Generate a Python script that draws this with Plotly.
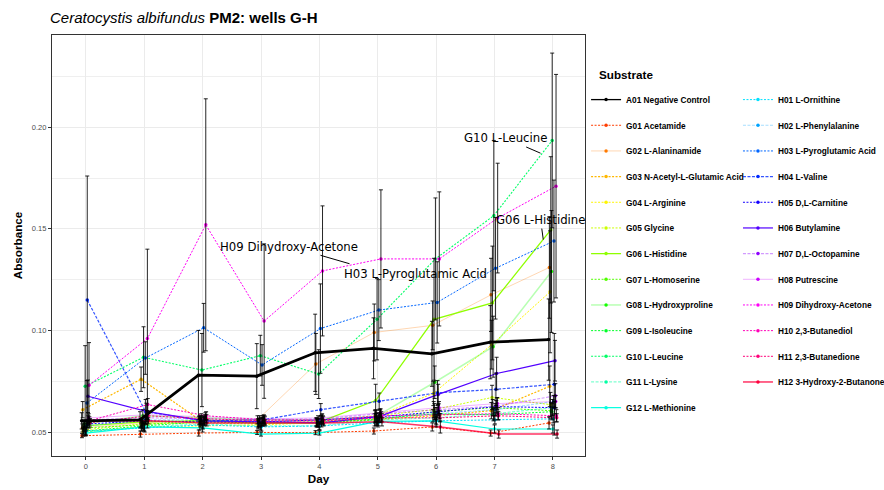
import plotly.graph_objects as go
import numpy as np

days = [0, 1, 2, 3, 4, 5, 6, 7, 8]
day_labels = ["0", "1", "2", "3", "4", "5", "6", "7", "8"]
y_ticks = [0.05, 0.10, 0.15, 0.20]
y_tick_labels = ["0.05", "0.10", "0.15", "0.20"]

substrates = [
    "A01 Negative Control", "G01 Acetamide", "G02 L-Alaninamide", "G03 N-Acetyl-L-Glutamic Acid",
    "G04 L-Arginine", "G05 Glycine", "G06 L-Histidine", "G07 L-Homoserine",
    "G08 L-Hydroxyproline", "G09 L-Isoleucine", "G10 L-Leucine", "G11 L-Lysine",
    "G12 L-Methionine", "H01 L-Ornithine", "H02 L-Phenylalanine", "H03 L-Pyroglutamic Acid",
    "H04 L-Valine", "H05 D,L-Carnitine", "H06 Butylamine", "H07 D,L-Octopamine",
    "H08 Putrescine", "H09 Dihydroxy-Acetone", "H10 2,3-Butanediol", "H11 2,3-Butanedione",
    "H12 3-Hydroxy-2-Butanone",
]

# mean absorbance per day
a01 = [0.0555, 0.0560, 0.0780, 0.0775, 0.0890, 0.0912, 0.0885, 0.0942, 0.0955]
g01 = [0.0482, 0.0490, 0.0495, 0.0498, 0.0497, 0.0505, 0.0525, 0.0495, 0.0545]
g02 = [0.0520, 0.0545, 0.0555, 0.0560, 0.0835, 0.0990, 0.1025, 0.1175, 0.1310]
g03 = [0.0610, 0.0760, 0.0560, 0.0545, 0.0550, 0.0560, 0.0580, 0.0605, 0.0725]
g04 = [0.0500, 0.0525, 0.0530, 0.0535, 0.0545, 0.0575, 0.0690, 0.0930, 0.1190]
g05 = [0.0510, 0.0540, 0.0545, 0.0540, 0.0550, 0.0580, 0.0610, 0.0670, 0.0635]
g06 = [0.0530, 0.0550, 0.0555, 0.0545, 0.0545, 0.0655, 0.1055, 0.1135, 0.1495]
g07 = [0.0520, 0.0535, 0.0560, 0.0550, 0.0545, 0.0560, 0.0600, 0.0620, 0.0605]
g08 = [0.0540, 0.0580, 0.0570, 0.0560, 0.0560, 0.0577, 0.0745, 0.0920, 0.1290]
g09 = [0.0505, 0.0530, 0.0550, 0.0545, 0.0545, 0.0565, 0.0590, 0.0585, 0.0600]
g10 = [0.0725, 0.0868, 0.0805, 0.0876, 0.0785, 0.1055, 0.1352, 0.1565, 0.1935]
g11 = [0.0500, 0.0525, 0.0540, 0.0530, 0.0530, 0.0560, 0.0570, 0.0590, 0.0620]
g12 = [0.0495, 0.0525, 0.0520, 0.0490, 0.0495, 0.0552, 0.0555, 0.0515, 0.0515]
h01 = [0.0505, 0.0520, 0.0535, 0.0525, 0.0530, 0.0545, 0.0555, 0.0560, 0.0565]
h02 = [0.0530, 0.0560, 0.0560, 0.0550, 0.0555, 0.0570, 0.0590, 0.0610, 0.0650]
h03 = [0.0643, 0.0864, 0.1013, 0.0830, 0.1009, 0.1100, 0.1138, 0.1306, 0.1440]
h04 = [0.1150, 0.0600, 0.0555, 0.0560, 0.0610, 0.0652, 0.0693, 0.0710, 0.0735]
h05 = [0.0540, 0.0555, 0.0550, 0.0550, 0.0560, 0.0575, 0.0600, 0.0625, 0.0620]
h06 = [0.0676, 0.0602, 0.0555, 0.0550, 0.0545, 0.0577, 0.0685, 0.0788, 0.0851]
h07 = [0.0560, 0.0570, 0.0565, 0.0560, 0.0565, 0.0590, 0.0610, 0.0628, 0.0678]
h08 = [0.0570, 0.0585, 0.0575, 0.0565, 0.0570, 0.0595, 0.0620, 0.0640, 0.0650]
h09 = [0.0730, 0.0960, 0.1520, 0.1046, 0.1293, 0.1352, 0.1352, 0.1553, 0.1710]
h10 = [0.0555, 0.0635, 0.0580, 0.0560, 0.0560, 0.0580, 0.0585, 0.0590, 0.0580]
h11 = [0.0545, 0.0580, 0.0565, 0.0555, 0.0555, 0.0570, 0.0570, 0.0580, 0.0570]
h12 = [0.0555, 0.0555, 0.0545, 0.0545, 0.0545, 0.0550, 0.0525, 0.0490, 0.0490]

# error (half-length of each error bar)
a01_sd = [0.004, 0.004, 0.022, 0.016, 0.019, 0.015, 0.016, 0.018, 0.020]
g01_sd = [0.001, 0.0015, 0.0015, 0.001, 0.001, 0.0015, 0.002, 0.0015, 0.003]
g02_sd = [0.002, 0.002, 0.002, 0.002, 0.015, 0.014, 0.012, 0.018, 0.025]
g03_sd = [0.004, 0.006, 0.002, 0.002, 0.002, 0.003, 0.003, 0.004, 0.010]
g04_sd = [0.002, 0.002, 0.002, 0.002, 0.002, 0.003, 0.006, 0.012, 0.030]
g05_sd = [0.002, 0.002, 0.002, 0.002, 0.002, 0.003, 0.004, 0.006, 0.006]
g06_sd = [0.002, 0.002, 0.002, 0.002, 0.002, 0.008, 0.030, 0.028, 0.036]
g07_sd = [0.002, 0.002, 0.002, 0.002, 0.002, 0.003, 0.004, 0.004, 0.004]
g08_sd = [0.002, 0.003, 0.002, 0.002, 0.002, 0.003, 0.008, 0.015, 0.030]
g09_sd = [0.002, 0.002, 0.002, 0.002, 0.002, 0.003, 0.003, 0.003, 0.004]
g10_sd = [0.020, 0.015, 0.018, 0.010, 0.012, 0.020, 0.030, 0.037, 0.043]
g11_sd = [0.002, 0.002, 0.002, 0.002, 0.002, 0.002, 0.003, 0.003, 0.004]
g12_sd = [0.001, 0.002, 0.002, 0.001, 0.001, 0.002, 0.003, 0.002, 0.002]
h01_sd = [0.002, 0.002, 0.002, 0.002, 0.002, 0.002, 0.002, 0.002, 0.002]
h02_sd = [0.002, 0.002, 0.002, 0.002, 0.002, 0.002, 0.003, 0.003, 0.003]
h03_sd = [0.011, 0.008, 0.012, 0.010, 0.022, 0.015, 0.020, 0.025, 0.030]
h04_sd = [0.061, 0.006, 0.002, 0.002, 0.003, 0.004, 0.006, 0.008, 0.025]
h05_sd = [0.002, 0.002, 0.002, 0.002, 0.002, 0.002, 0.003, 0.003, 0.003]
h06_sd = [0.008, 0.004, 0.002, 0.002, 0.002, 0.003, 0.005, 0.008, 0.010]
h07_sd = [0.002, 0.002, 0.002, 0.002, 0.002, 0.002, 0.003, 0.004, 0.006]
h08_sd = [0.002, 0.002, 0.002, 0.002, 0.002, 0.002, 0.003, 0.003, 0.003]
h09_sd = [0.021, 0.044, 0.062, 0.038, 0.032, 0.034, 0.033, 0.027, 0.055]
h10_sd = [0.002, 0.003, 0.002, 0.002, 0.002, 0.002, 0.002, 0.003, 0.003]
h11_sd = [0.002, 0.002, 0.002, 0.002, 0.002, 0.002, 0.002, 0.002, 0.002]
h12_sd = [0.001, 0.0015, 0.0015, 0.0015, 0.0015, 0.002, 0.003, 0.002, 0.002]

means = [a01, g01, g02, g03, g04, g05, g06, g07, g08, g09, g10, g11, g12,
         h01, h02, h03, h04, h05, h06, h07, h08, h09, h10, h11, h12]
sds = [a01_sd, g01_sd, g02_sd, g03_sd, g04_sd, g05_sd, g06_sd, g07_sd, g08_sd, g09_sd,
       g10_sd, g11_sd, g12_sd, h01_sd, h02_sd, h03_sd, h04_sd, h05_sd, h06_sd, h07_sd,
       h08_sd, h09_sd, h10_sd, h11_sd, h12_sd]

# styles
colors = ["#000000", "#FF3D00", "#FF7A00", "#FFB800", "#FFF500", "#CCFF00", "#8FFF00", "#52FF00",
          "#14FF00", "#00FF29", "#00FF66", "#00FFA3", "#00FFE0", "#00E0FF", "#00A3FF", "#0066FF",
          "#0029FF", "#1400FF", "#5200FF", "#8F00FF", "#CC00FF", "#FF00F5", "#FF00B8", "#FF007A",
          "#FF003D"]
line_alpha = [1, 1, 0.3, 1, 1, 1, 1, 1, 0.3, 1, 1, 0.5, 1,
              1, 0.35, 1, 0.8, 1, 1, 0.4, 0.3, 1, 1, 1, 0.8]
dashes = ["solid", "dot", "solid", "dot", "dot", "dot", "solid", "dot", "solid", "dot", "dot", "dash", "solid",
          "dot", "dash", "dot", "dash", "dot", "solid", "dash", "solid", "dot", "dot", "dot", "solid"]
widths = [1.3, 1, 1, 1.2, 1, 1, 1.3, 1, 1.5, 1, 1.1, 1.2, 1.2,
          1, 1.2, 1, 1.2, 1, 1.2, 1.2, 1, 1, 1, 1, 1.5]
dash_map = {"solid": "solid", "dot": "2px,1.5px", "dash": "3px,1.5px"}

DODGE = 0.006
n = len(substrates)


def rgba(hexcol, a):
    h = hexcol.lstrip("#")
    r, g, b = int(h[0:2], 16), int(h[2:4], 16), int(h[4:6], 16)
    return f"rgba({r},{g},{b},{a})"


fig = go.Figure()
xs_all = []
for i in range(n):
    off = (i - (n - 1) / 2) * DODGE
    xs = [d + off for d in days]
    xs_all.append(xs)
    fig.add_trace(go.Scatter(
        x=xs, y=means[i], mode="lines+markers", name=substrates[i],
        line=dict(color=rgba(colors[i], line_alpha[i]), width=widths[i], dash=dash_map[dashes[i]]),
        marker=dict(color=colors[i], size=3.5),
        legend="legend" if i < 13 else "legend2", legendgroup=substrates[i],
        hoverinfo="skip",
    ))

# thick overlay for the negative control (legend key stays thin)
fig.add_trace(go.Scatter(
    x=xs_all[0], y=means[0], mode="lines", showlegend=False,
    line=dict(color=colors[0], width=2.8), hoverinfo="skip",
))

for i in range(n):
    fig.add_trace(go.Scatter(
        x=xs_all[i], y=means[i], mode="markers", showlegend=False,
        marker=dict(color="rgba(0,0,0,0)", size=1),
        error_y=dict(type="data", array=sds[i], visible=True, color="rgba(0,0,0,0.85)",
                     thickness=1, width=2),
        hoverinfo="skip",
    ))

# repelled labels
label_series = ["G10 L-Leucine", "G06 L-Histidine", "H09 Dihydroxy-Acetone", "H03 L-Pyroglutamic Acid"]
label_at_day = [7.82, 7.84, 4.55, 6.82]
label_shift = [(-37, -16), (-3, -22), (-62, -18), (-69, -1)]
for name, d, (ax, ay) in zip(label_series, label_at_day, label_shift):
    k = substrates.index(name)
    yv = float(np.interp(d, days, means[k]))
    fig.add_annotation(
        x=d, y=yv, text=name, showarrow=True, arrowhead=0, arrowwidth=1, arrowcolor="black",
        ax=ax, ay=ay, standoff=2,
        font=dict(family="DejaVu Sans Condensed, sans-serif", size=13, color="black"),
    )

# legend heading
fig.add_annotation(
    x=1.0225, y=0.905, xref="paper", yref="paper", xanchor="left", yanchor="middle",
    text="<b>Substrate</b>", showarrow=False,
    font=dict(family="Liberation Sans", size=11.7, color="black"),
)

mid_ticks = [(a + b) / 2 for a, b in zip(y_ticks[:-1], y_ticks[1:])] + [y_ticks[-1] + 0.025]

axis_common = dict(
    showline=True, mirror=True, linecolor="#333333", linewidth=1.2,
    ticks="outside", ticklen=3, tickcolor="#333333", tickwidth=1,
    tickfont=dict(family="Liberation Sans", size=7.5, color="#4D4D4D"),
    gridcolor="#EBEBEB", gridwidth=1, zeroline=False, showgrid=True,
)

legend_common = dict(
    xanchor="left", y=0.881, yanchor="top",
    font=dict(family="Liberation Sans", size=8.3, color="black", weight="bold"),
    traceorder="grouped", tracegroupgap=6.67, bgcolor="rgba(0,0,0,0)",
)

fig.update_layout(
    width=884, height=490,
    margin=dict(l=52, r=299, t=35, b=34, autoexpand=False),
    paper_bgcolor="white", plot_bgcolor="white",
    title=dict(text="<i>Ceratocystis albifundus</i> <b>PM2: wells G-H</b>",
               x=50 / 884, xref="container", xanchor="left",
               y=1 - 18 / 490, yref="container", yanchor="middle",
               font=dict(family="Liberation Sans", size=15, color="black")),
    xaxis=dict(range=[-0.58, 8.55], tickmode="array", tickvals=days, ticktext=day_labels,
               title=dict(text="<b>Day</b>", standoff=4,
                          font=dict(family="Liberation Sans", size=11.7, color="black")),
               **axis_common),
    yaxis=dict(range=[0.0382, 0.2454], tickmode="array", tickvals=y_ticks, ticktext=y_tick_labels,
               title=dict(text="<b>Absorbance</b>", standoff=6,
                          font=dict(family="Liberation Sans", size=11.7, color="black")),
               minor=dict(tickmode="array", tickvals=mid_ticks, showgrid=True,
                          gridcolor="#EFEFEF", gridwidth=0.6, ticklen=0),
               **axis_common),
    legend=dict(x=1.002, **legend_common),
    legend2=dict(x=1.287, **legend_common),
)

fig.write_html("out.html")
